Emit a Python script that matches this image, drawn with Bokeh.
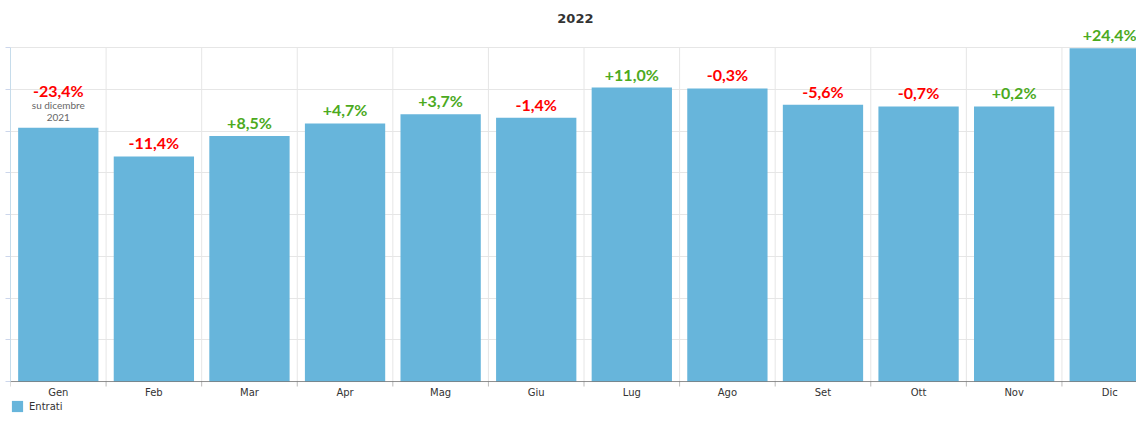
from bokeh.plotting import figure
from bokeh.models import (Range1d, FixedTicker, LabelSet, ColumnDataSource,
                          Legend, LegendItem, Label, Span)
from bokeh.core.properties import value
from bokeh.embed import file_html
from bokeh.resources import INLINE

# ---- data ----
months = ["Gen", "Feb", "Mar", "Apr", "Mag", "Giu", "Lug", "Ago", "Set", "Ott", "Nov", "Dic"]
entrati = [6080, 5390, 5880, 6180, 6400, 6320, 7040, 7020, 6630, 6590, 6590, 7980]
variazione = [-23.4, -11.4, 8.5, 4.7, 3.7, -1.4, 11.0, -0.3, -5.6, -0.7, 0.2, 24.4]
nota_gen = ["su dicembre", "2021"]
titolo = "2022"
serie = "Entrati"
y_ticks = [0, 1000, 2000, 3000, 4000, 5000, 6000, 7000, 8000]

RED = "#ff0000"
GREEN = "#4caa1e"
BAR = "#67b5db"

x = [i + 0.5 for i in range(len(months))]
bounds_x = list(range(len(months) + 1))
labels = [("+" if v > 0 else "") + f"{v:.1f}".replace(".", ",") + "%" for v in variazione]
colors = [RED if v < 0 else GREEN for v in variazione]
offsets = [31] + [7] * (len(months) - 1)
y_top = max(y_ticks)
tick_len = 120  # 5 px in data units

src = ColumnDataSource(dict(x=x, entrati=entrati, label=labels, color=colors, off=offsets,
                            month=months, zero=[0] * len(months)))
gsrc = ColumnDataSource(dict(b=bounds_x, lo=[0] * len(bounds_x), hi=[y_top] * len(bounds_x),
                             tk=[-tick_len] * len(bounds_x)))

p = figure(width=1136, height=413, output_backend="svg", toolbar_location=None,
           x_range=Range1d(0, 11.78), y_range=Range1d(-766, 9126),
           min_border_left=10, min_border_right=0, min_border_top=0, min_border_bottom=0)
p.outline_line_color = None
p.background_fill_color = "white"
p.border_fill_color = "white"
p.xgrid.grid_line_color = None
p.ygrid.grid_line_color = "#e6e6e6"

# vertical category grid lines and axis tick marks
p.segment(x0="b", y0="lo", x1="b", y1="hi", source=gsrc, line_color="#e6e6e6", line_width=1)
p.segment(x0="b", y0="tk", x1="b", y1="lo", source=gsrc, line_color="#bbbbbb", line_width=1)

bars = p.vbar(x="x", top="entrati", width=0.84, source=src,
              fill_color=BAR, line_color=None)

# x axis drawn inside the frame
p.xaxis.visible = False
p.add_layout(Span(location=0, dimension="width", line_color="#555555", line_alpha=0.6,
                  line_width=1))
p.add_layout(LabelSet(x="x", y="zero", text="month", source=src, y_offset=-11,
                      text_align="center", text_baseline="middle",
                      text_font=value("DejaVu Sans"), text_font_size="10px",
                      text_color="#333333"))

# y axis (no labels)
ya = p.yaxis[0]
ya.ticker = FixedTicker(ticks=y_ticks)
ya.bounds = (0, y_top)
ya.axis_line_color = "#c6dceb"
ya.major_tick_line_color = "#ccd6eb"
ya.major_tick_out = 5
ya.major_tick_in = 0
ya.minor_tick_line_color = None
ya.major_label_overrides = {t: " " for t in y_ticks}
ya.major_label_text_font_size = "2px"
ya.major_label_text_alpha = 0
ya.major_label_standoff = 0

# percent labels
p.add_layout(LabelSet(x="x", y="entrati", text="label", text_color="color", y_offset="off",
                      source=src, text_align="center", text_baseline="alphabetic",
                      text_font=value("Lato"), text_font_style="bold", text_font_size="16px"))

# note under January label
nsrc = ColumnDataSource(dict(x=[x[0]] * 2, y=[entrati[0]] * 2, t=nota_gen, off=[19, 7]))
p.add_layout(LabelSet(x="x", y="y", text="t", y_offset="off", source=nsrc,
                      text_align="center", text_baseline="alphabetic",
                      text_font=value("Lato"), text_font_size="10px", text_color="#666666"))

# title
p.add_layout(Label(x=5.91, y=8695, text=titolo, text_align="center", text_baseline="middle",
                   text_font="DejaVu Sans", text_font_style="bold", text_font_size="13px",
                   text_color="#333333"))

legend = Legend(items=[LegendItem(label=serie, renderers=[bars])], location=(0, 0),
                orientation="horizontal", border_line_color=None, padding=0, margin=0,
                background_fill_alpha=0,
                glyph_width=14, glyph_height=14, label_text_font="DejaVu Sans",
                label_text_font_size="10px", label_text_color="#333333", spacing=4)
p.add_layout(legend, "center")

open("out.html", "w").write(file_html(p, INLINE))
